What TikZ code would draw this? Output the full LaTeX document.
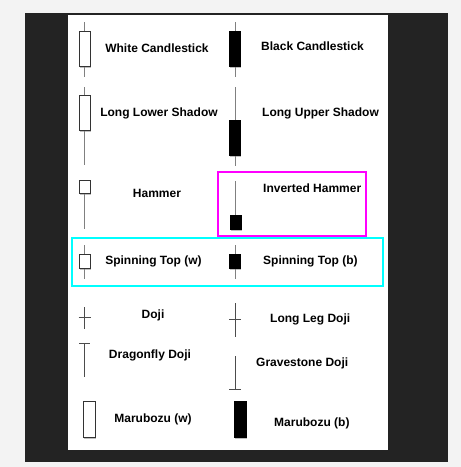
\documentclass[tikz,border=0pt]{standalone}
\usepackage{fontspec}
\setmainfont{Liberation Sans}
\usepackage{xcolor}
\usetikzlibrary{shadows,positioning}

\definecolor{pagegray}{HTML}{F3F3F3}
\definecolor{framedark}{HTML}{232323}
\definecolor{wickgray}{HTML}{808080}
\definecolor{hlmagenta}{HTML}{FF00FF}
\definecolor{hlcyan}{HTML}{00FFFF}

\begin{document}
\begin{tikzpicture}[x=1pt,y=-1pt,
  wick/.style={draw=wickgray,line width=0.9pt},
  dojiline/.style={draw=black!70,line width=0.8pt},
  wbody/.style={draw=black!80,fill=white,line width=0.9pt,
    drop shadow={shadow xshift=0.8pt,shadow yshift=-2.2pt,opacity=0.5}},
  bbody/.style={draw=black,fill=black,line width=0.8pt,
    drop shadow={shadow xshift=0.8pt,shadow yshift=-2.2pt,opacity=0.5}},
  lbl/.style={font=\bfseries\fontsize{12}{14}\selectfont,inner sep=0pt},
  hlbox/.style={line width=2.2pt}]
  % page, frame and sheet
  \useasboundingbox[fill=pagegray] (0,0) rectangle (461,467);
  \fill[framedark] (25,13) rectangle (448,462);
  \fill[white] (68,15) rectangle (388,450);
  % white / black candlestick
  \draw[wick] (84.5,22) -- (84.5,77);
  \draw[wbody] (79,31) rectangle (90,66);
  \draw[wick] (235,22) -- (235,77);
  \draw[bbody] (229.5,31) rectangle (240.5,66);
  \node[lbl] (whitecs) at (157,48) {White Candlestick};
  \node[lbl,anchor=west] (blackcs) at (261,46) {Black Candlestick};
  % long shadows
  \draw[wick] (84.5,87) -- (84.5,165);
  \draw[wbody] (79,95) rectangle (90,130);
  \draw[wick] (235,87) -- (235,166);
  \draw[bbody] (229.5,120) rectangle (240.5,155);
  \node[lbl] (lowshadow) at (159,113) {Long Lower Shadow};
  \node[lbl,anchor=west] (upshadow) at (262,113) {Long Upper Shadow};
  % hammers
  \draw[wick] (84.5,180) -- (84.5,229);
  \draw[wbody] (79,180) rectangle (90,193);
  \draw[wick] (235,181) -- (235,229);
  \draw[bbody] (230,215) rectangle (241,229);
  \node[lbl] (hammer) at (157,193) {Hammer};
  \node[lbl,anchor=west] (invhammer) at (263,188) {Inverted Hammer};
  \draw[hlbox,hlmagenta] (218,172) rectangle (366,236);
  % spinning tops
  \draw[hlbox,hlcyan] (72,238) rectangle (383,286);
  \draw[wick] (84.5,245) -- (84.5,279);
  \draw[wbody] (79,254) rectangle (90,268);
  \draw[wick] (235,245) -- (235,279);
  \draw[bbody] (229.5,254) rectangle (240.5,268);
  \node[lbl] (spinw) at (153.5,261) {Spinning Top (w)};
  \node[lbl,anchor=west] (spinb) at (263,261) {Spinning Top (b)};
  % dojis
  \draw[dojiline] (84.5,307) -- (84.5,329) (78.5,317) -- (90.5,317);
  \draw[dojiline] (235,303) -- (235,337) (229,319) -- (241,319);
  \node[lbl] (doji) at (153,315) {Doji};
  \node[lbl,anchor=west] (longleg) at (270,319) {Long Leg Doji};
  \draw[dojiline] (84.5,343) -- (84.5,377) (79,343) -- (90,343);
  \draw[dojiline] (235,356) -- (235,389) (229,389) -- (241,389);
  \node[lbl] (dragonfly) at (150,355) {Dragonfly Doji};
  \node[lbl,anchor=west] (gravestone) at (256,363) {Gravestone Doji};
  % marubozu
  \draw[wbody] (83,401) rectangle (95,437);
  \draw[bbody] (234,401) rectangle (246,437);
  \node[lbl] (marw) at (153,419) {Marubozu (w)};
  \node[lbl,anchor=west] (marb) at (274,423) {Marubozu (b)};
\end{tikzpicture}
\end{document}
